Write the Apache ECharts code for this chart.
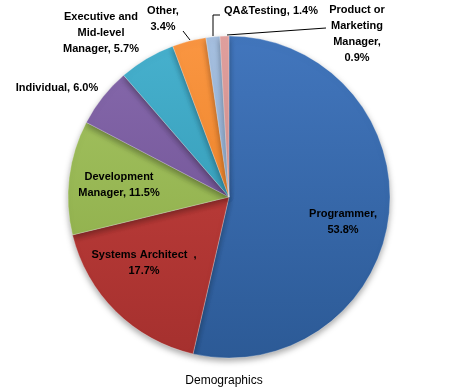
<!DOCTYPE html>
<html><head><meta charset="utf-8">
<script src="https://cdn.jsdelivr.net/npm/echarts@6/dist/echarts.min.js"></script>
<style>html,body{margin:0;padding:0;background:#fff}#c{width:463px;height:391px}</style>
</head><body><div id="c"></div>
<script>
var categories = ['Programmer', 'Systems Architect', 'Development Manager', 'Individual', 'Executive and Mid-level Manager', 'Other', 'QA&Testing', 'Product or Marketing Manager'];
var values = [53.8, 17.7, 11.5, 6.0, 5.7, 3.4, 1.4, 0.9];
var labelLines = [
  ['Programmer,', '53.8%'],
  ['Systems Architect  ,', '17.7%'],
  ['Development', 'Manager, 11.5%'],
  ['Individual, 6.0%'],
  ['Executive and', 'Mid-level', 'Manager, 5.7%'],
  ['Other,', '3.4%'],
  ['QA&Testing, 1.4%'],
  ['Product or', 'Marketing', 'Manager,', '0.9%']
];
var title = 'Demographics';

var baseColors = [['#4276bd','#2c5a96'],['#c8433f','#a5302e'],['#a6c563','#88a844'],['#876aad','#684a8c'],['#47b1ce','#2c91ac'],['#fa9642','#e3781a'],['#a6c0e0','#84a2c8'],['#e2a19f','#c7817f']];
// label placement (center x,y, in px) - layout only
var labelPos = [[343,222],[144,263],[119,185],[57,88],[101,33],[163,19],[271,11],[357,34]];
var linePts = {5:[[183,31],[190,40]], 6:[[220,15],[213,15],[213,36]], 7:[[326,28],[227,35]]};

var chart = echarts.init(document.getElementById('c'));
var data = categories.map(function(n,i){
  return {
    name: n, value: values[i],
    itemStyle: {color: {type:'linear', x:0, y:36, x2:0, y2:358, global:true,
      colorStops:[{offset:0,color:baseColors[i][0]},{offset:1,color:baseColors[i][1]}]}},
    labelLine: {show: !!linePts[i]}
  };
});
chart.setOption({
  animation:false,
  title:{text:title, left:219, top:370, textAlign:'center',
    textStyle:{fontFamily:'Liberation Sans, Arial, sans-serif', fontSize:12, fontWeight:'normal', color:'#000'}},
  series:[{
    type:'pie', center:[229,197], radius:161, startAngle:90, clockwise:true,
    data:data,
    itemStyle:{borderColor:'rgba(255,255,255,0.35)', borderWidth:0.8, shadowBlur:6, shadowOffsetY:3, shadowColor:'rgba(0,0,0,0.35)'},
    label:{show:true, position:'outside', color:'#000', fontFamily:'Liberation Sans, Arial, sans-serif',
      fontSize:11, fontWeight:'bold', lineHeight:16, align:'center', overflow:'none', width:200,
      formatter:function(p){return labelLines[p.dataIndex].join('\n');}},
    labelLine:{lineStyle:{color:'#000', width:1}, length:5, length2:5},
    labelLayout:function(p){
      var i = p.dataIndex;
      var r = {x:labelPos[i][0], y:labelPos[i][1], align:'center', verticalAlign:'middle'};
      if (linePts[i]) r.labelLinePoints = linePts[i];
      return r;
    },
    emphasis:{disabled:true}
  }]
});
</script></body></html>
